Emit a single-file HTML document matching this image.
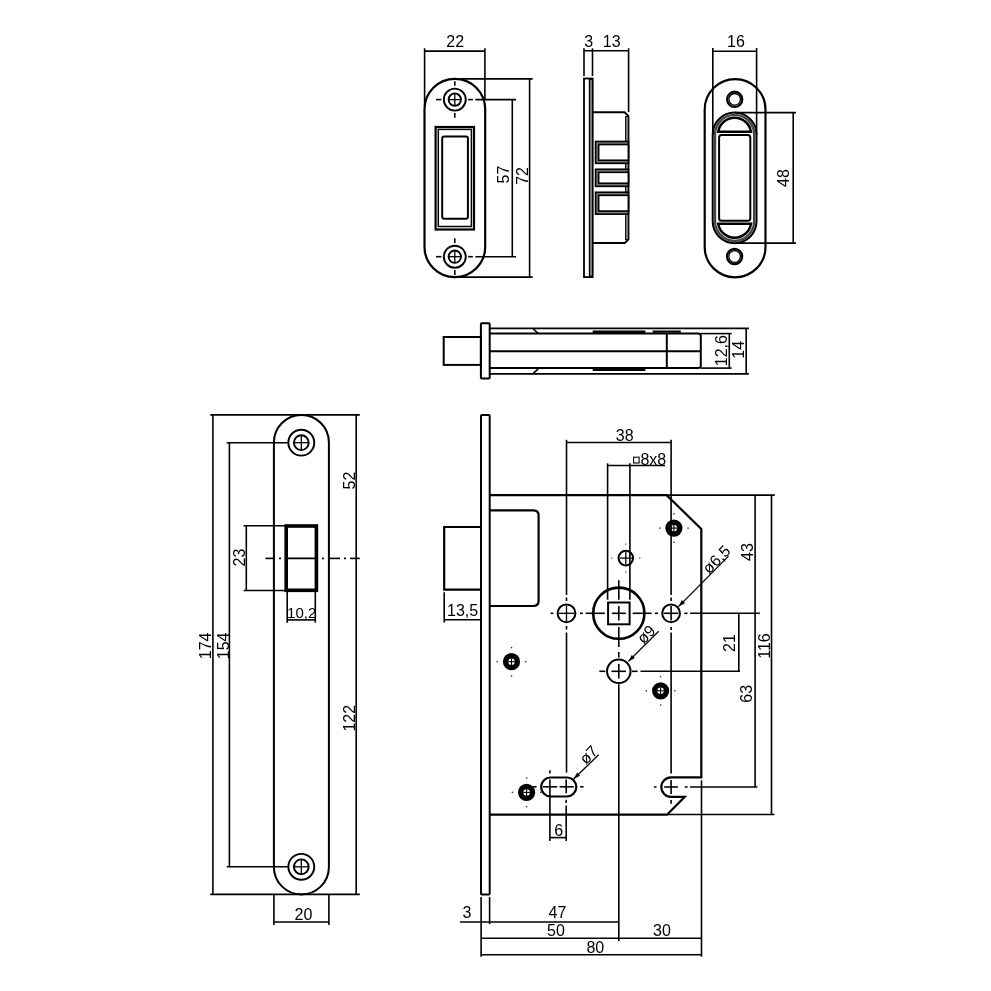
<!DOCTYPE html>
<html><head><meta charset="utf-8"><style>
html,body{margin:0;padding:0;background:#fff;}
svg{display:block;will-change:transform;}
text{font-family:"Liberation Sans",sans-serif;fill:#000;}
</style></head><body>
<svg width="991" height="991" viewBox="0 0 991 991" stroke-linecap="butt">
<rect width="991" height="991" fill="#fff"/>
<path d="M424.50,109.25 A30.35,30.35 0 0 1 485.20,109.25 V246.75 A30.35,30.35 0 0 1 424.50,246.75 Z" stroke="#000" stroke-width="2.2" fill="none" />
<circle cx="454.80" cy="99.60" r="11.00" stroke="#000" stroke-width="1.9" fill="none"/>
<circle cx="454.80" cy="99.60" r="6.20" stroke="#000" stroke-width="1.9" fill="none"/>
<line x1="448.50" y1="99.60" x2="461.10" y2="99.60" stroke="#000" stroke-width="1.3" />
<line x1="454.80" y1="93.30" x2="454.80" y2="105.90" stroke="#000" stroke-width="1.3" />
<line x1="454.80" y1="81.20" x2="454.80" y2="85.80" stroke="#000" stroke-width="1.6" />
<line x1="454.80" y1="113.00" x2="454.80" y2="117.80" stroke="#000" stroke-width="1.6" />
<line x1="436.10" y1="99.60" x2="441.40" y2="99.60" stroke="#000" stroke-width="1.6" />
<line x1="468.10" y1="99.60" x2="472.90" y2="99.60" stroke="#000" stroke-width="1.6" />
<circle cx="454.80" cy="256.70" r="11.00" stroke="#000" stroke-width="1.9" fill="none"/>
<circle cx="454.80" cy="256.70" r="6.20" stroke="#000" stroke-width="1.9" fill="none"/>
<line x1="448.50" y1="256.70" x2="461.10" y2="256.70" stroke="#000" stroke-width="1.3" />
<line x1="454.80" y1="250.40" x2="454.80" y2="263.00" stroke="#000" stroke-width="1.3" />
<line x1="454.80" y1="238.30" x2="454.80" y2="242.90" stroke="#000" stroke-width="1.6" />
<line x1="454.80" y1="270.10" x2="454.80" y2="274.90" stroke="#000" stroke-width="1.6" />
<line x1="436.10" y1="256.70" x2="441.40" y2="256.70" stroke="#000" stroke-width="1.6" />
<line x1="468.10" y1="256.70" x2="472.90" y2="256.70" stroke="#000" stroke-width="1.6" />
<rect x="435.60" y="127.00" width="38.40" height="102.50" rx="0" stroke="#000" stroke-width="2.2" fill="none"/>
<rect x="438.30" y="129.40" width="33.10" height="97.10" rx="0" stroke="#000" stroke-width="1.5" fill="none"/>
<rect x="442.20" y="136.60" width="25.70" height="82.10" rx="2" stroke="#000" stroke-width="2.0" fill="none"/>
<line x1="424.60" y1="48.30" x2="424.60" y2="106.00" stroke="#000" stroke-width="1.6" />
<line x1="484.90" y1="48.30" x2="484.90" y2="100.00" stroke="#000" stroke-width="1.6" />
<line x1="424.60" y1="51.10" x2="484.90" y2="51.10" stroke="#000" stroke-width="1.6" />
<text x="455.20" y="47.27" font-size="16" text-anchor="middle">22</text>
<line x1="475.40" y1="99.60" x2="516.00" y2="99.60" stroke="#000" stroke-width="1.6" />
<line x1="475.40" y1="256.70" x2="516.00" y2="256.70" stroke="#000" stroke-width="1.6" />
<line x1="512.30" y1="99.60" x2="512.30" y2="256.70" stroke="#000" stroke-width="1.6" />
<text x="502.80" y="180.77" font-size="16" text-anchor="middle" transform="rotate(-90 502.80 174.60)">57</text>
<line x1="461.00" y1="78.90" x2="532.70" y2="78.90" stroke="#000" stroke-width="1.6" />
<line x1="455.00" y1="277.10" x2="532.70" y2="277.10" stroke="#000" stroke-width="1.6" />
<line x1="529.60" y1="78.50" x2="529.60" y2="277.10" stroke="#000" stroke-width="1.6" />
<text x="521.50" y="182.07" font-size="16" text-anchor="middle" transform="rotate(-90 521.50 175.90)">72</text>
<rect x="584.00" y="78.50" width="8.60" height="198.60" rx="0" stroke="#000" stroke-width="1.8" fill="none"/>
<rect x="589.40" y="79.50" width="3.20" height="196.60" rx="0" stroke="#000" stroke-width="1.2" fill="#777"/>
<path d="M592.6,112.3 H624.6 L628.4,116.1 V239.4 L624.8,243.0 H592.6" stroke="#000" stroke-width="2.0" fill="none" />
<rect x="625.60" y="116.50" width="2.80" height="123.00" rx="0" stroke="#000" stroke-width="1.0" fill="#888"/>
<rect x="595.60" y="141.50" width="32.80" height="21.80" rx="0" stroke="#000" stroke-width="1.7" fill="#888"/>
<rect x="598.60" y="144.50" width="29.80" height="15.80" rx="0" stroke="#000" stroke-width="1.7" fill="#fff"/>
<rect x="595.60" y="169.30" width="32.80" height="17.00" rx="0" stroke="#000" stroke-width="1.7" fill="#888"/>
<rect x="598.60" y="172.30" width="29.80" height="11.00" rx="0" stroke="#000" stroke-width="1.7" fill="#fff"/>
<rect x="595.60" y="192.30" width="32.80" height="21.80" rx="0" stroke="#000" stroke-width="1.7" fill="#888"/>
<rect x="598.60" y="195.30" width="29.80" height="15.80" rx="0" stroke="#000" stroke-width="1.7" fill="#fff"/>
<line x1="584.00" y1="48.30" x2="584.00" y2="76.00" stroke="#000" stroke-width="1.6" />
<line x1="592.50" y1="48.30" x2="592.50" y2="76.00" stroke="#000" stroke-width="1.6" />
<line x1="628.60" y1="48.30" x2="628.60" y2="112.00" stroke="#000" stroke-width="1.6" />
<line x1="584.00" y1="50.80" x2="628.60" y2="50.80" stroke="#000" stroke-width="1.6" />
<text x="588.70" y="47.07" font-size="16" text-anchor="middle">3</text>
<text x="611.70" y="47.07" font-size="16" text-anchor="middle">13</text>
<path d="M704.70,109.50 A30.40,30.40 0 0 1 765.50,109.50 V246.90 A30.40,30.40 0 0 1 704.70,246.90 Z" stroke="#000" stroke-width="2.2" fill="none" />
<circle cx="734.70" cy="99.30" r="7.60" stroke="#000" stroke-width="2.2" fill="none"/>
<circle cx="734.70" cy="99.30" r="5.80" stroke="#000" stroke-width="1.3" fill="none"/>
<circle cx="734.60" cy="256.50" r="7.60" stroke="#000" stroke-width="2.2" fill="none"/>
<circle cx="734.60" cy="256.50" r="5.80" stroke="#000" stroke-width="1.3" fill="none"/>
<path d="M712.70,134.50 A21.90,21.90 0 0 1 756.50,134.50 V221.30 A21.90,21.90 0 0 1 712.70,221.30 Z" stroke="#000" stroke-width="2.0" fill="none" />
<path d="M715.00,134.50 A19.60,19.60 0 0 1 754.20,134.50 V221.30 A19.60,19.60 0 0 1 715.00,221.30 Z" stroke="#444" stroke-width="2.4" fill="none" />
<path d="M718.2,131.8 H751.0 A16.6,16.6 0 0 0 718.2,131.8 Z" stroke="#000" stroke-width="2.4" fill="none" />
<path d="M718.2,223.7 H751.0 A16.6,16.6 0 0 1 718.2,223.7 Z" stroke="#000" stroke-width="2.4" fill="none" />
<rect x="719.10" y="135.00" width="31.20" height="85.80" rx="2.5" stroke="#000" stroke-width="2.0" fill="none"/>
<line x1="712.80" y1="48.00" x2="712.80" y2="135.00" stroke="#000" stroke-width="1.6" />
<line x1="756.60" y1="48.00" x2="756.60" y2="135.00" stroke="#000" stroke-width="1.6" />
<line x1="712.80" y1="51.20" x2="756.60" y2="51.20" stroke="#000" stroke-width="1.6" />
<text x="735.90" y="47.02" font-size="16" text-anchor="middle">16</text>
<line x1="735.00" y1="112.60" x2="796.00" y2="112.60" stroke="#000" stroke-width="1.6" />
<line x1="735.00" y1="243.10" x2="796.00" y2="243.10" stroke="#000" stroke-width="1.6" />
<line x1="793.20" y1="112.60" x2="793.20" y2="243.10" stroke="#000" stroke-width="1.6" />
<text x="783.30" y="184.17" font-size="16" text-anchor="middle" transform="rotate(-90 783.30 178.00)">48</text>
<rect x="443.70" y="337.00" width="37.20" height="27.90" rx="0" stroke="#000" stroke-width="2.0" fill="none"/>
<rect x="480.90" y="323.20" width="8.80" height="55.40" rx="1" stroke="#000" stroke-width="2.0" fill="none"/>
<line x1="489.70" y1="328.40" x2="748.90" y2="328.40" stroke="#000" stroke-width="1.8" />
<line x1="489.70" y1="373.90" x2="748.90" y2="373.90" stroke="#000" stroke-width="1.8" />
<path d="M489.7,333.6 H698.3 Q700.8,333.6 700.8,336.1 V365.6 Q700.8,368.1 698.3,368.1 H489.7" stroke="#000" stroke-width="2.0" fill="none" />
<line x1="489.70" y1="351.30" x2="700.80" y2="351.30" stroke="#000" stroke-width="2.0" />
<line x1="666.80" y1="333.60" x2="666.80" y2="368.10" stroke="#000" stroke-width="2.0" />
<line x1="533.30" y1="329.00" x2="538.20" y2="333.40" stroke="#000" stroke-width="1.6" />
<line x1="533.30" y1="373.30" x2="538.20" y2="368.90" stroke="#000" stroke-width="1.6" />
<line x1="592.70" y1="331.90" x2="645.40" y2="331.90" stroke="#000" stroke-width="3.0" />
<line x1="652.60" y1="331.60" x2="680.80" y2="331.60" stroke="#000" stroke-width="2.2" />
<line x1="592.70" y1="369.60" x2="645.40" y2="369.60" stroke="#000" stroke-width="3.0" />
<line x1="700.80" y1="333.60" x2="731.60" y2="333.60" stroke="#000" stroke-width="1.6" />
<line x1="700.80" y1="368.10" x2="731.60" y2="368.10" stroke="#000" stroke-width="1.6" />
<line x1="729.30" y1="333.60" x2="729.30" y2="368.10" stroke="#000" stroke-width="1.6" />
<line x1="746.20" y1="328.40" x2="746.20" y2="373.90" stroke="#000" stroke-width="1.6" />
<text x="720.60" y="356.77" font-size="16" text-anchor="middle" transform="rotate(-90 720.60 350.60)">12,6</text>
<text x="737.50" y="355.97" font-size="16" text-anchor="middle" transform="rotate(-90 737.50 349.80)">14</text>
<path d="M273.90,442.40 A27.50,27.50 0 0 1 328.90,442.40 V866.90 A27.50,27.50 0 0 1 273.90,866.90 Z" stroke="#000" stroke-width="2.0" fill="none" />
<circle cx="301.30" cy="442.70" r="12.95" stroke="#000" stroke-width="1.9" fill="none"/>
<circle cx="301.30" cy="442.70" r="7.40" stroke="#000" stroke-width="1.9" fill="none"/>
<line x1="294.10" y1="442.70" x2="308.50" y2="442.70" stroke="#000" stroke-width="1.3" />
<line x1="301.30" y1="435.50" x2="301.30" y2="449.90" stroke="#000" stroke-width="1.3" />
<circle cx="301.30" cy="866.80" r="12.95" stroke="#000" stroke-width="1.9" fill="none"/>
<circle cx="301.30" cy="866.80" r="7.40" stroke="#000" stroke-width="1.9" fill="none"/>
<line x1="294.10" y1="866.80" x2="308.50" y2="866.80" stroke="#000" stroke-width="1.3" />
<line x1="301.30" y1="859.60" x2="301.30" y2="874.00" stroke="#000" stroke-width="1.3" />
<rect x="286.20" y="526.00" width="30.20" height="64.30" rx="0" stroke="#000" stroke-width="3.6" fill="none"/>
<line x1="265.40" y1="558.40" x2="275.00" y2="558.40" stroke="#000" stroke-width="1.6" />
<line x1="279.00" y1="558.40" x2="281.00" y2="558.40" stroke="#000" stroke-width="1.6" />
<line x1="285.00" y1="558.40" x2="318.00" y2="558.40" stroke="#000" stroke-width="1.6" />
<line x1="322.00" y1="558.40" x2="324.00" y2="558.40" stroke="#000" stroke-width="1.6" />
<line x1="328.00" y1="558.40" x2="340.00" y2="558.40" stroke="#000" stroke-width="1.6" />
<line x1="344.00" y1="558.40" x2="346.00" y2="558.40" stroke="#000" stroke-width="1.6" />
<line x1="350.00" y1="558.40" x2="359.80" y2="558.40" stroke="#000" stroke-width="1.6" />
<line x1="210.30" y1="414.90" x2="359.80" y2="414.90" stroke="#000" stroke-width="1.6" />
<line x1="210.30" y1="894.40" x2="359.80" y2="894.40" stroke="#000" stroke-width="1.6" />
<line x1="212.90" y1="414.90" x2="212.90" y2="894.40" stroke="#000" stroke-width="1.6" />
<line x1="226.70" y1="442.70" x2="288.00" y2="442.70" stroke="#000" stroke-width="1.6" />
<line x1="226.70" y1="866.80" x2="288.00" y2="866.80" stroke="#000" stroke-width="1.6" />
<line x1="229.40" y1="442.70" x2="229.40" y2="866.80" stroke="#000" stroke-width="1.6" />
<line x1="356.20" y1="414.90" x2="356.20" y2="894.40" stroke="#000" stroke-width="1.6" />
<line x1="243.60" y1="525.70" x2="286.00" y2="525.70" stroke="#000" stroke-width="1.6" />
<line x1="243.60" y1="590.50" x2="286.00" y2="590.50" stroke="#000" stroke-width="1.6" />
<line x1="246.30" y1="525.70" x2="246.30" y2="590.50" stroke="#000" stroke-width="1.6" />
<line x1="287.20" y1="590.50" x2="287.20" y2="622.70" stroke="#000" stroke-width="1.6" />
<line x1="315.30" y1="590.50" x2="315.30" y2="622.70" stroke="#000" stroke-width="1.6" />
<line x1="287.20" y1="619.90" x2="315.30" y2="619.90" stroke="#000" stroke-width="1.6" />
<line x1="273.90" y1="894.40" x2="273.90" y2="925.00" stroke="#000" stroke-width="1.6" />
<line x1="328.90" y1="894.40" x2="328.90" y2="925.00" stroke="#000" stroke-width="1.6" />
<line x1="273.90" y1="922.00" x2="328.90" y2="922.00" stroke="#000" stroke-width="1.6" />
<text x="205.30" y="652.07" font-size="16" text-anchor="middle" transform="rotate(-90 205.30 645.90)">174</text>
<text x="222.40" y="652.07" font-size="16" text-anchor="middle" transform="rotate(-90 222.40 645.90)">154</text>
<text x="349.10" y="486.67" font-size="16" text-anchor="middle" transform="rotate(-90 349.10 480.50)">52</text>
<text x="349.10" y="724.37" font-size="16" text-anchor="middle" transform="rotate(-90 349.10 718.20)">122</text>
<text x="239.00" y="563.67" font-size="16" text-anchor="middle" transform="rotate(-90 239.00 557.50)">23</text>
<text x="301.70" y="618.32" font-size="15" text-anchor="middle">10,2</text>
<text x="303.50" y="920.17" font-size="16" text-anchor="middle">20</text>
<rect x="481.00" y="415.00" width="8.70" height="479.50" rx="1" stroke="#000" stroke-width="2.0" fill="none"/>
<path d="M489.7,495.1 H666.6 L701.3,529.0 V777.3 H671.1 A9.8,9.8 0 0 0 671.1,796.9 H684.8 L667.0,814.7 H489.7" stroke="#000" stroke-width="2.2" fill="none" />
<path d="M489.7,510.4 H533.4 Q538.6,510.4 538.6,515.6 V600.8 Q538.6,606.0 533.4,606.0 H489.7" stroke="#000" stroke-width="2.2" fill="none" />
<path d="M481.0,527.0 H444.2 V589.6 H481.0" stroke="#000" stroke-width="2.2" fill="none" />
<circle cx="618.80" cy="613.20" r="25.60" stroke="#000" stroke-width="2.6" fill="none"/>
<rect x="608.10" y="602.50" width="21.50" height="21.80" rx="0" stroke="#000" stroke-width="2.0" fill="none"/>
<circle cx="566.50" cy="613.30" r="8.90" stroke="#000" stroke-width="2.0" fill="none"/>
<circle cx="671.10" cy="613.30" r="8.90" stroke="#000" stroke-width="2.0" fill="none"/>
<circle cx="618.80" cy="671.30" r="11.75" stroke="#000" stroke-width="2.0" fill="none"/>
<circle cx="625.80" cy="558.10" r="7.30" stroke="#000" stroke-width="2.0" fill="none"/>
<line x1="558.80" y1="613.30" x2="574.20" y2="613.30" stroke="#000" stroke-width="1.3" />
<line x1="566.50" y1="605.60" x2="566.50" y2="621.00" stroke="#000" stroke-width="1.3" />
<line x1="619.70" y1="558.10" x2="631.90" y2="558.10" stroke="#000" stroke-width="1.3" />
<line x1="625.80" y1="552.00" x2="625.80" y2="564.20" stroke="#000" stroke-width="1.3" />
<rect x="639.20" y="557.50" width="1.2" height="1.2" fill="#333"/>
<rect x="611.20" y="557.50" width="1.2" height="1.2" fill="#333"/>
<rect x="625.20" y="571.50" width="1.2" height="1.2" fill="#333"/>
<rect x="625.20" y="543.50" width="1.2" height="1.2" fill="#333"/>
<circle cx="673.90" cy="528.10" r="8.60" stroke="#000" stroke-width="0" fill="#000"/>
<circle cx="673.90" cy="528.10" r="3.20" stroke="#fff" stroke-width="0" fill="#fff"/>
<line x1="670.40" y1="528.10" x2="677.40" y2="528.10" stroke="#000" stroke-width="1.1" />
<line x1="673.90" y1="524.60" x2="673.90" y2="531.60" stroke="#000" stroke-width="1.1" />
<rect x="687.40" y="527.40" width="1.4" height="1.4" fill="#333"/>
<rect x="659.00" y="527.40" width="1.4" height="1.4" fill="#333"/>
<rect x="673.20" y="541.60" width="1.4" height="1.4" fill="#333"/>
<rect x="673.20" y="513.20" width="1.4" height="1.4" fill="#333"/>
<circle cx="511.50" cy="661.70" r="8.60" stroke="#000" stroke-width="0" fill="#000"/>
<circle cx="511.50" cy="661.70" r="3.20" stroke="#fff" stroke-width="0" fill="#fff"/>
<line x1="508.00" y1="661.70" x2="515.00" y2="661.70" stroke="#000" stroke-width="1.1" />
<line x1="511.50" y1="658.20" x2="511.50" y2="665.20" stroke="#000" stroke-width="1.1" />
<rect x="525.00" y="661.00" width="1.4" height="1.4" fill="#333"/>
<rect x="496.60" y="661.00" width="1.4" height="1.4" fill="#333"/>
<rect x="510.80" y="675.20" width="1.4" height="1.4" fill="#333"/>
<rect x="510.80" y="646.80" width="1.4" height="1.4" fill="#333"/>
<circle cx="660.60" cy="690.80" r="8.60" stroke="#000" stroke-width="0" fill="#000"/>
<circle cx="660.60" cy="690.80" r="3.20" stroke="#fff" stroke-width="0" fill="#fff"/>
<line x1="657.10" y1="690.80" x2="664.10" y2="690.80" stroke="#000" stroke-width="1.1" />
<line x1="660.60" y1="687.30" x2="660.60" y2="694.30" stroke="#000" stroke-width="1.1" />
<rect x="674.10" y="690.10" width="1.4" height="1.4" fill="#333"/>
<rect x="645.70" y="690.10" width="1.4" height="1.4" fill="#333"/>
<rect x="659.90" y="704.30" width="1.4" height="1.4" fill="#333"/>
<rect x="659.90" y="675.90" width="1.4" height="1.4" fill="#333"/>
<circle cx="526.60" cy="792.40" r="8.60" stroke="#000" stroke-width="0" fill="#000"/>
<circle cx="526.60" cy="792.40" r="3.20" stroke="#fff" stroke-width="0" fill="#fff"/>
<line x1="523.10" y1="792.40" x2="530.10" y2="792.40" stroke="#000" stroke-width="1.1" />
<line x1="526.60" y1="788.90" x2="526.60" y2="795.90" stroke="#000" stroke-width="1.1" />
<rect x="540.10" y="791.70" width="1.4" height="1.4" fill="#333"/>
<rect x="511.70" y="791.70" width="1.4" height="1.4" fill="#333"/>
<rect x="525.90" y="805.90" width="1.4" height="1.4" fill="#333"/>
<rect x="525.90" y="777.50" width="1.4" height="1.4" fill="#333"/>
<path d="M550.70,777.50 H566.80 A9.50,9.50 0 0 1 566.80,796.50 H550.70 A9.50,9.50 0 0 1 550.70,777.50 Z" stroke="#000" stroke-width="2.2" fill="none" />
<line x1="566.50" y1="439.80" x2="566.50" y2="595.00" stroke="#000" stroke-width="1.6" />
<line x1="566.50" y1="597.50" x2="566.50" y2="601.00" stroke="#000" stroke-width="1.6" />
<line x1="566.50" y1="626.00" x2="566.50" y2="629.50" stroke="#000" stroke-width="1.6" />
<line x1="566.50" y1="632.50" x2="566.50" y2="772.60" stroke="#000" stroke-width="1.6" />
<line x1="549.90" y1="770.30" x2="549.90" y2="773.50" stroke="#000" stroke-width="1.6" />
<line x1="566.20" y1="779.50" x2="566.20" y2="793.30" stroke="#000" stroke-width="1.6" />
<line x1="566.20" y1="799.70" x2="566.20" y2="803.00" stroke="#000" stroke-width="1.6" />
<line x1="566.20" y1="805.40" x2="566.20" y2="840.90" stroke="#000" stroke-width="1.6" />
<line x1="549.90" y1="779.50" x2="549.90" y2="840.90" stroke="#000" stroke-width="1.6" />
<line x1="533.00" y1="786.80" x2="536.60" y2="786.80" stroke="#000" stroke-width="1.6" />
<line x1="543.00" y1="786.80" x2="557.20" y2="786.80" stroke="#000" stroke-width="1.6" />
<line x1="559.60" y1="786.80" x2="573.80" y2="786.80" stroke="#000" stroke-width="1.6" />
<line x1="580.20" y1="786.80" x2="583.50" y2="786.80" stroke="#000" stroke-width="1.6" />
<line x1="550.60" y1="613.30" x2="553.40" y2="613.30" stroke="#000" stroke-width="1.6" />
<line x1="580.00" y1="613.30" x2="582.90" y2="613.30" stroke="#000" stroke-width="1.6" />
<line x1="585.70" y1="613.30" x2="604.80" y2="613.30" stroke="#000" stroke-width="1.6" />
<line x1="611.90" y1="613.30" x2="625.80" y2="613.30" stroke="#000" stroke-width="1.6" />
<line x1="632.70" y1="613.30" x2="651.60" y2="613.30" stroke="#000" stroke-width="1.6" />
<line x1="654.90" y1="613.30" x2="658.10" y2="613.30" stroke="#000" stroke-width="1.6" />
<line x1="663.70" y1="613.30" x2="678.30" y2="613.30" stroke="#000" stroke-width="1.6" />
<line x1="684.30" y1="613.30" x2="687.50" y2="613.30" stroke="#000" stroke-width="1.6" />
<line x1="690.00" y1="613.30" x2="759.80" y2="613.30" stroke="#000" stroke-width="1.6" />
<line x1="618.80" y1="580.30" x2="618.80" y2="599.70" stroke="#000" stroke-width="1.6" />
<line x1="618.80" y1="606.00" x2="618.80" y2="620.50" stroke="#000" stroke-width="1.6" />
<line x1="618.80" y1="626.90" x2="618.80" y2="647.10" stroke="#000" stroke-width="1.6" />
<line x1="618.80" y1="651.90" x2="618.80" y2="657.60" stroke="#000" stroke-width="1.6" />
<line x1="618.80" y1="664.00" x2="618.80" y2="678.50" stroke="#000" stroke-width="1.6" />
<line x1="618.80" y1="684.20" x2="618.80" y2="941.20" stroke="#000" stroke-width="1.6" />
<line x1="599.30" y1="671.30" x2="605.30" y2="671.30" stroke="#000" stroke-width="1.6" />
<line x1="611.40" y1="671.30" x2="625.90" y2="671.30" stroke="#000" stroke-width="1.6" />
<line x1="632.00" y1="671.30" x2="637.60" y2="671.30" stroke="#000" stroke-width="1.6" />
<line x1="640.50" y1="671.30" x2="740.00" y2="671.30" stroke="#000" stroke-width="1.6" />
<line x1="671.10" y1="439.80" x2="671.10" y2="595.00" stroke="#000" stroke-width="1.6" />
<line x1="671.10" y1="597.50" x2="671.10" y2="601.00" stroke="#000" stroke-width="1.6" />
<line x1="671.10" y1="606.00" x2="671.10" y2="620.60" stroke="#000" stroke-width="1.6" />
<line x1="671.10" y1="626.90" x2="671.10" y2="630.00" stroke="#000" stroke-width="1.6" />
<line x1="671.10" y1="632.50" x2="671.10" y2="773.40" stroke="#000" stroke-width="1.6" />
<line x1="671.10" y1="779.90" x2="671.10" y2="794.00" stroke="#000" stroke-width="1.6" />
<line x1="671.10" y1="800.00" x2="671.10" y2="803.70" stroke="#000" stroke-width="1.6" />
<line x1="654.10" y1="787.00" x2="656.50" y2="787.00" stroke="#000" stroke-width="1.6" />
<line x1="664.20" y1="787.00" x2="677.90" y2="787.00" stroke="#000" stroke-width="1.6" />
<line x1="684.80" y1="787.00" x2="687.60" y2="787.00" stroke="#000" stroke-width="1.6" />
<line x1="690.00" y1="787.00" x2="757.40" y2="787.00" stroke="#000" stroke-width="1.6" />
<line x1="607.60" y1="463.30" x2="607.60" y2="599.70" stroke="#000" stroke-width="1.6" />
<line x1="629.90" y1="463.30" x2="629.90" y2="599.70" stroke="#000" stroke-width="1.6" />
<line x1="607.60" y1="465.50" x2="665.00" y2="465.50" stroke="#000" stroke-width="1.6" />
<line x1="566.50" y1="442.50" x2="671.10" y2="442.50" stroke="#000" stroke-width="1.6" />
<text x="624.70" y="441.07" font-size="16" text-anchor="middle">38</text>
<rect x="633.60" y="457.20" width="5.50" height="5.80" rx="0" stroke="#000" stroke-width="1.1" fill="none"/>
<text x="653.30" y="464.57" font-size="16" text-anchor="middle">8x8</text>
<line x1="666.60" y1="495.10" x2="774.80" y2="495.10" stroke="#000" stroke-width="1.6" />
<line x1="755.10" y1="495.10" x2="755.10" y2="786.90" stroke="#000" stroke-width="1.6" />
<line x1="771.50" y1="495.10" x2="771.50" y2="814.60" stroke="#000" stroke-width="1.6" />
<line x1="667.00" y1="814.50" x2="774.40" y2="814.50" stroke="#000" stroke-width="1.6" />
<line x1="738.80" y1="613.30" x2="738.80" y2="671.40" stroke="#000" stroke-width="1.6" />
<text x="747.30" y="558.17" font-size="16" text-anchor="middle" transform="rotate(-90 747.30 552.00)">43</text>
<text x="746.00" y="699.97" font-size="16" text-anchor="middle" transform="rotate(-90 746.00 693.80)">63</text>
<text x="763.90" y="652.17" font-size="16" text-anchor="middle" transform="rotate(-90 763.90 646.00)">116</text>
<text x="729.00" y="649.27" font-size="16" text-anchor="middle" transform="rotate(-90 729.00 643.10)">21</text>
<line x1="549.90" y1="837.60" x2="566.20" y2="837.60" stroke="#000" stroke-width="1.6" />
<text x="558.60" y="836.07" font-size="16" text-anchor="middle">6</text>
<line x1="481.10" y1="897.00" x2="481.10" y2="956.70" stroke="#000" stroke-width="1.6" />
<line x1="489.60" y1="897.00" x2="489.60" y2="924.20" stroke="#000" stroke-width="1.6" />
<line x1="459.90" y1="922.00" x2="618.70" y2="922.00" stroke="#000" stroke-width="1.6" />
<line x1="481.10" y1="938.30" x2="701.50" y2="938.30" stroke="#000" stroke-width="1.6" />
<line x1="481.10" y1="954.70" x2="701.50" y2="954.70" stroke="#000" stroke-width="1.6" />
<line x1="701.50" y1="780.30" x2="701.50" y2="956.70" stroke="#000" stroke-width="1.6" />
<text x="467.00" y="917.67" font-size="16" text-anchor="middle">3</text>
<text x="557.40" y="917.67" font-size="16" text-anchor="middle">47</text>
<text x="556.00" y="936.47" font-size="16" text-anchor="middle">50</text>
<text x="661.90" y="936.47" font-size="16" text-anchor="middle">30</text>
<text x="595.30" y="952.67" font-size="16" text-anchor="middle">80</text>
<line x1="444.20" y1="592.30" x2="444.20" y2="622.60" stroke="#000" stroke-width="1.6" />
<line x1="444.20" y1="619.70" x2="481.00" y2="619.70" stroke="#000" stroke-width="1.6" />
<text x="462.60" y="615.67" font-size="16" text-anchor="middle">13,5</text>
<line x1="728.50" y1="556.10" x2="678.50" y2="606.60" stroke="#000" stroke-width="1.3" />
<path d="M678.50,606.60 L681.86,600.08 L684.99,603.17 Z" fill="#000"/>
<text x="716.00" y="565.17" font-size="16" text-anchor="middle" transform="rotate(-45 716.00 559.00)">ø6,5</text>
<line x1="658.70" y1="631.20" x2="628.40" y2="661.40" stroke="#000" stroke-width="1.3" />
<path d="M628.40,661.40 L631.80,654.90 L634.91,658.02 Z" fill="#000"/>
<text x="645.70" y="640.07" font-size="16" text-anchor="middle" transform="rotate(-45 645.70 633.90)">ø9</text>
<line x1="598.70" y1="754.80" x2="573.60" y2="779.00" stroke="#000" stroke-width="1.3" />
<path d="M573.60,779.00 L577.11,772.56 L580.17,775.73 Z" fill="#000"/>
<text x="588.20" y="760.57" font-size="16" text-anchor="middle" transform="rotate(-45 588.20 754.40)">ø7</text>
</svg></body></html>
